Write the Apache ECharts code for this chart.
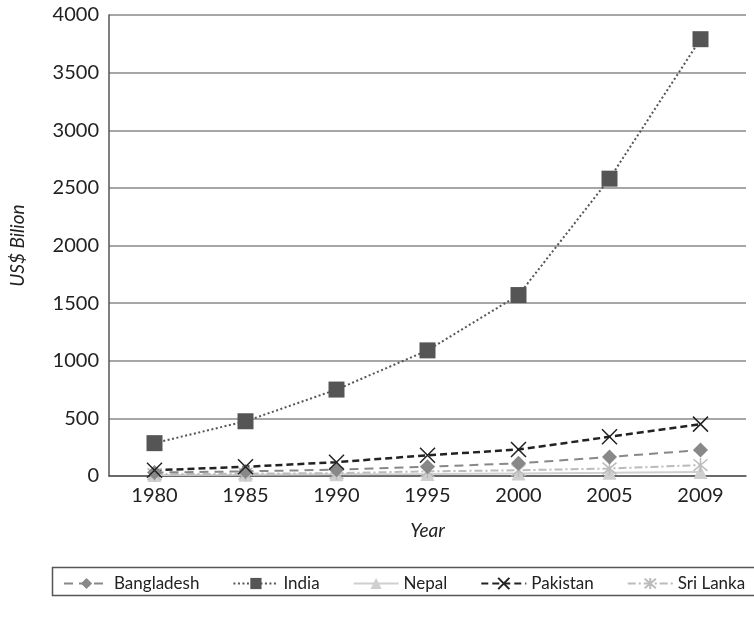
<!DOCTYPE html>
<html>
<head>
<meta charset="utf-8">
<script src="https://cdn.jsdelivr.net/npm/echarts@6/dist/echarts.min.js"></script>
<style>html,body{margin:0;padding:0;background:#fff}#c{width:754px;height:619px}</style>
</head>
<body>
<div id="c"></div>
<script>
const years = ['1980','1985','1990','1995','2000','2005','2009'];
const bangladesh = [30, 40, 55, 80, 110, 165, 225];
const india = [285, 475, 750, 1090, 1570, 2580, 3790];
const nepal = [8, 10, 15, 18, 22, 28, 35];
const pakistan = [50, 80, 120, 180, 230, 340, 450];
const sriLanka = [15, 20, 25, 40, 50, 65, 95];

const FONT = 'Lato';
const xPath = 'path://M0,0 L10,10 M10,0 L0,10';
const starPath = 'path://M0,0 L10,10 M10,0 L0,10 M5,-1 L5,11';

const chart = echarts.init(document.getElementById('c'), null, {renderer: 'canvas'});
chart.setOption({
  animation: false,
  backgroundColor: '#fff',
  textStyle: {fontFamily: FONT},
  grid: {left: 98, right: 8, top: 15, bottom: 143, containLabel: false},
  xAxis: {
    type: 'category', data: years, boundaryGap: true,
    name: 'Year', nameLocation: 'middle', nameGap: 45,
    nameTextStyle: {fontFamily: FONT, fontStyle: 'italic', fontSize: 19, color: '#222'},
    axisLine: {lineStyle: {color: '#555', width: 1.5}},
    axisTick: {show: false},
    axisLabel: {fontFamily: FONT, fontSize: 20, color: '#222', margin: 10}
  },
  yAxis: {
    type: 'value', min: 0, max: 4000, interval: 500,
    name: 'US$ Bilion', nameLocation: 'middle', nameGap: 82,
    nameTextStyle: {fontFamily: FONT, fontStyle: 'italic', fontSize: 19, color: '#222'},
    axisLine: {show: true, lineStyle: {color: '#555', width: 1.5}},
    axisTick: {show: false},
    axisLabel: {fontFamily: FONT, fontSize: 20, color: '#222', margin: 10, formatter: v => String(v)},
    splitLine: {lineStyle: {color: '#888', width: 1.5}}
  },
  legend: {
    top: 570, left: 58, itemGap: 33, itemWidth: 45, itemHeight: 14,
    textStyle: {fontFamily: FONT, fontSize: 17, color: '#222'},
    data: ['Bangladesh','India','Nepal','Pakistan','Sri Lanka']
  },
  graphic: [{
    type: 'rect', left: 50, top: 565, shape: {width: 703, height: 28},
    style: {fill: 'none', stroke: '#555', lineWidth: 1.5}, silent: true
  }],
  series: [
    {name: 'Nepal', type: 'line', data: nepal, symbol: 'triangle', symbolSize: 14,
     itemStyle: {color: '#cfcfcf'}, lineStyle: {color: '#cfcfcf', width: 2, type: 'solid'}},
    {name: 'Sri Lanka', type: 'line', data: sriLanka, symbol: starPath, symbolSize: 14,
     itemStyle: {color: 'rgba(0,0,0,0)', borderColor: '#bbb', borderWidth: 1.5},
     lineStyle: {color: '#bbb', width: 2, type: [8, 3, 2, 3]}},
    {name: 'Bangladesh', type: 'line', data: bangladesh, symbol: 'diamond', symbolSize: 15,
     itemStyle: {color: '#888'}, lineStyle: {color: '#888', width: 2, type: [9, 6]}},
    {name: 'Pakistan', type: 'line', data: pakistan, symbol: xPath, symbolSize: 15,
     itemStyle: {color: 'rgba(0,0,0,0)', borderColor: '#222', borderWidth: 1.5},
     lineStyle: {color: '#222', width: 2.5, type: [7, 4]}},
    {name: 'India', type: 'line', data: india, symbol: 'rect', symbolSize: 16,
     itemStyle: {color: '#555'}, lineStyle: {color: '#555', width: 2, type: [2, 2.5]}}
  ]
});
</script>
</body>
</html>
